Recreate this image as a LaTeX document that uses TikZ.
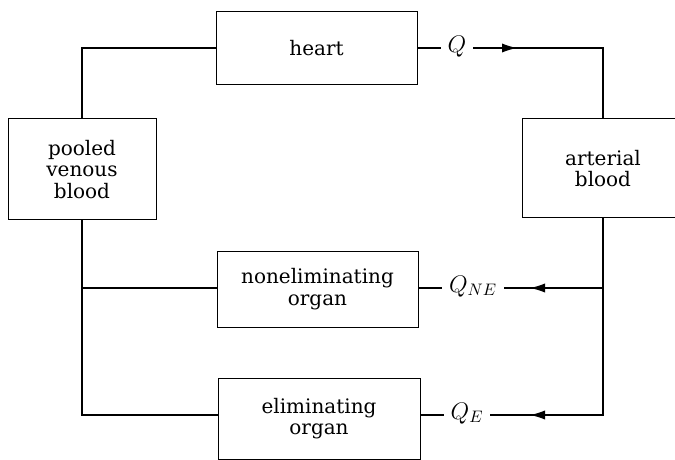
\documentclass[tikz,border=0pt]{standalone}
\usepackage{amsmath}
\usepackage{fontspec}
\setmainfont{DejaVu Serif}
\usetikzlibrary{arrows.meta}
\begin{document}
\begin{tikzpicture}[x=0.6pt, y=-0.6pt,
        every node/.style={font=\fontsize{12}{12.8}\selectfont},
        organ/.style={draw, line width=0.6pt, align=center, inner sep=0pt},
        flow/.style={inner sep=4pt, anchor=mid, font=\fontsize{14}{14}\selectfont},
        pipe/.style={line width=0.7pt},
        tip/.style={pipe, -{Latex[length=9pt, width=5.5pt]}}]
        % Frame, the arterial box runs off the right side
        \path[use as bounding box, clip] (0,0) rectangle (675,460);

        % Compartments
        \node[organ, minimum width=120.6pt, minimum height=43.8pt] (heart) at (316.5,48) {heart};
        \node[organ, minimum width=88.8pt, minimum height=60.6pt] (venous) at (82,169.5) {pooled\\venous\\blood};
        \node[organ, minimum width=97.2pt, minimum height=59.4pt] (arterial) at (603,168.5) {arterial\\blood};
        \node[organ, minimum width=120.6pt, minimum height=45.6pt] (nonelim) at (317.5,289) {noneliminating\\organ};
        \node[organ, minimum width=121.2pt, minimum height=48.6pt] (elim) at (319,418.5) {eliminating\\organ};

        % Flow labels
        \node[flow] (Q) at (457,48) {$Q$};
        \node[flow] (QNE) at (473,288) {$Q_{NE}$};
        \node[flow] (QE) at (467,415) {$Q_E$};

        % Junctions
        \coordinate (qtip) at (517,48);
        \coordinate (netip) at (530,288);
        \coordinate (etip) at (530,415);
        \coordinate (nesplit) at (603,288);
        \coordinate (vsplit) at (82,288);

        % Venous side
        \draw[pipe] (heart.west) -| (venous.north);
        \draw[pipe] (venous.south) |- (elim.west |- etip);
        \draw[pipe] (vsplit) -- (nonelim.west |- vsplit);

        % Arterial side
        \draw[pipe] (heart.east) -- (Q.west |- heart.east);
        \draw[pipe] (Q.east |- qtip) -| (arterial.north);
        \draw[tip] (Q.east |- qtip) -- (qtip);
        \draw[pipe] (arterial.south) |- (etip -| QE.east);
        \draw[pipe] (nesplit) -- (netip -| QNE.east);
        \draw[tip] (nesplit) -- (netip);
        \draw[tip] (arterial.south |- etip) -- (etip);
        \draw[pipe] (nonelim.east |- netip) -- (netip -| QNE.west);
        \draw[pipe] (elim.east |- etip) -- (etip -| QE.west);
\end{tikzpicture}
\end{document}
